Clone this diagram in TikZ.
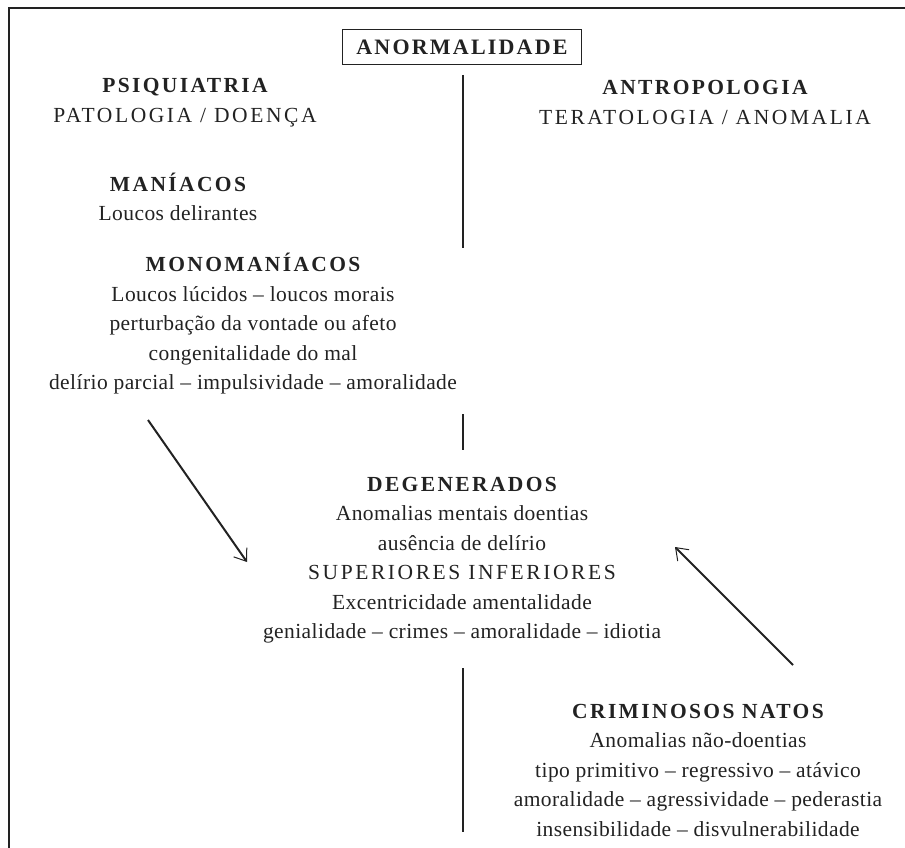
\documentclass[tikz,border=0pt]{standalone}
\usepackage{fontspec}
\setmainfont[LetterSpace=2]{Liberation Serif}
\newfontfamily\capsfont[LetterSpace=12]{Liberation Serif}
\newfontfamily\headfont[LetterSpace=11]{Liberation Serif}
\newfontfamily\titlefont[LetterSpace=10]{Liberation Serif}
\usepackage{tikz}
\usetikzlibrary{arrows.meta}
\definecolor{ink}{HTML}{222222}
\newcommand{\blockhead}[1]{{\headfont\bfseries\fontsize{21.5}{29.5}\selectfont #1}}
\newcommand{\capsline}[1]{{\capsfont #1}}

\begin{document}
\begin{tikzpicture}[x=1pt, y=-1pt,
		>={Straight Barb[length=11pt,width=16pt,line width=1pt]},
		every node/.style={text=ink, align=center, font=\fontsize{21.5}{29.5}\selectfont},
		rule/.style={draw=ink, line width=1.4pt},
		pointer/.style={draw=ink, line width=2pt, ->}]
		\useasboundingbox (0,0) rectangle (905,848);
		
		% Frame
		\draw[ink, line width=1.8pt] (905,8) -- (9,8) -- (9,848);
		
		% Nodes
		\node[draw=ink, line width=1.2pt, inner xsep=14pt, inner ysep=10pt] (anorm) at (462,47)
			{\titlefont\bfseries\fontsize{22}{26}\selectfont ANORMALIDADE};
		\node (psiq) at (185,102.5) {\blockhead{PSIQUIATRIA}\\ \capsline{PATOLOGIA / DOENÇA}};
		\node (antro) at (705,102.5) {\blockhead{ANTROPOLOGIA}\\ \capsline{TERATOLOGIA / ANOMALIA}};
		\node (mani) at (178,197) {\blockhead{MANÍACOS}\\ Loucos delirantes};
		\node (mono) at (253,324) {\blockhead{MONOMANÍACOS}\\
			Loucos lúcidos – loucos morais\\
			perturbação da vontade ou afeto\\
			congenitalidade do mal\\
			delírio parcial – impulsividade – amoralidade};
		\node (degen) at (462,560) {\blockhead{DEGENERADOS}\\
			Anomalias mentais doentias\\
			ausência de delírio\\
			\capsline{SUPERIORES INFERIORES}\\
			Excentricidade amentalidade\\
			genialidade – crimes – amoralidade – idiotia};
		\node (crim) at (698,770) {\blockhead{CRIMINOSOS NATOS}\\
			Anomalias não-doentias\\
			tipo primitivo – regressivo – atávico\\
			amoralidade – agressividade – pederastia\\
			insensibilidade – disvulnerabilidade};
		
		% Dividers
		\coordinate (top1) at (463,75);
		\coordinate (bot1) at (463,248);
		\coordinate (top2) at (463,414);
		\coordinate (bot2) at (463,450);
		\coordinate (top3) at (463,668);
		\coordinate (bot3) at (463,832);
		\draw[rule] (top1) -- (bot1);
		\draw[rule] (top2) -- (bot2);
		\draw[rule] (top3) -- (bot3);
		
		% Arrows
		\coordinate (monoout) at (148,420);
		\coordinate (degenin) at (247,562);
		\coordinate (crimout) at (793,665);
		\coordinate (degenin2) at (675,547);
		\draw[pointer] (monoout) -- (degenin);
		\draw[pointer] (crimout) -- (degenin2);
		
	\end{tikzpicture}
\end{document}
